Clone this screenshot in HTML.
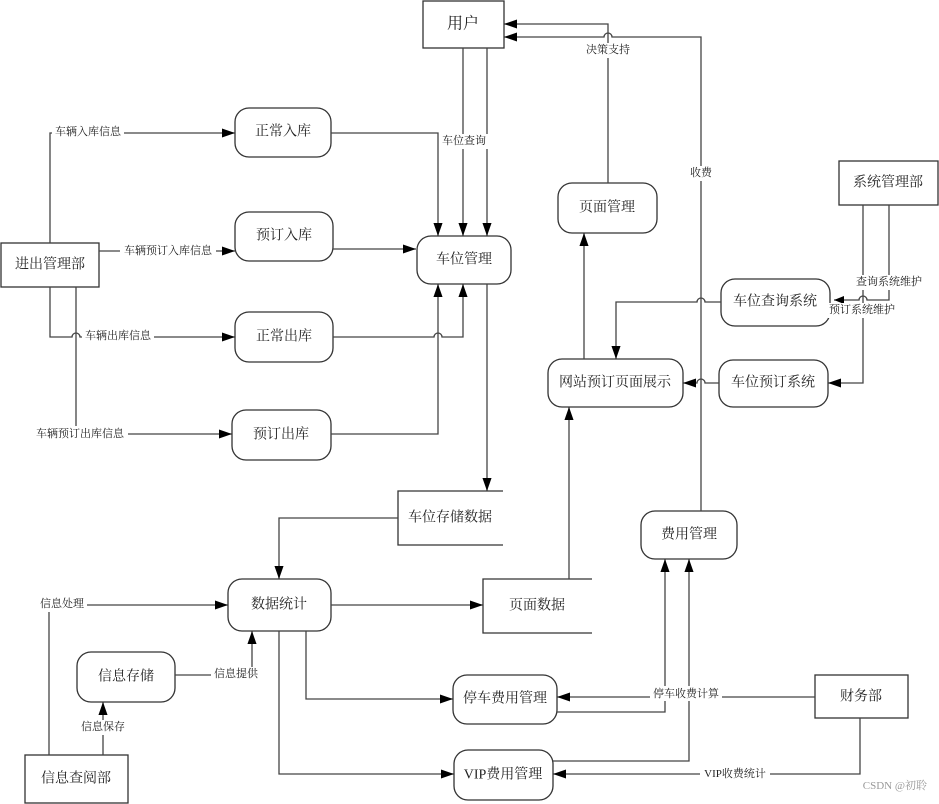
<!DOCTYPE html>
<html><head><meta charset="utf-8"><style>
html,body{margin:0;padding:0;background:#fff;}
svg{display:block;}
text{font-family:"Liberation Serif","Noto Serif CJK SC","Noto Sans CJK SC",serif;fill:#222;}
.n{font-size:14px;text-anchor:middle;dominant-baseline:central;}
.l{font-size:11px;text-anchor:middle;dominant-baseline:central;}
</style></head><body>
<svg width="939" height="804" viewBox="0 0 939 804" xmlns="http://www.w3.org/2000/svg">
<defs>
<marker id="a" viewBox="0 0 10 10" refX="10" refY="5" markerWidth="10" markerHeight="10" markerUnits="userSpaceOnUse" orient="auto"><path d="M0,1 L10,5 L0,9 z" fill="#000"/></marker>
<marker id="b" viewBox="0 0 10 10" refX="10" refY="5" markerWidth="13" markerHeight="13" markerUnits="userSpaceOnUse" orient="auto"><path d="M0,1.5 L10,5 L0,8.5 z" fill="#000"/></marker>
</defs>
<g fill="#fff" stroke="#333" stroke-width="1.3">
<rect x="423" y="1" width="81" height="47"/>
<rect x="1" y="243" width="98" height="44"/>
<rect x="839" y="161" width="99" height="44"/>
<rect x="815" y="675" width="93" height="43"/>
<rect x="25" y="755" width="103" height="48"/>
<rect x="235" y="108" width="96" height="49" rx="14"/>
<rect x="235" y="212" width="98" height="49" rx="14"/>
<rect x="235" y="312" width="98" height="50" rx="14"/>
<rect x="232" y="410" width="99" height="50" rx="14"/>
<rect x="417" y="236" width="94" height="48" rx="14"/>
<rect x="558" y="183" width="99" height="50" rx="14"/>
<rect x="721" y="279" width="109" height="47" rx="14"/>
<rect x="548" y="359" width="135" height="48" rx="14"/>
<rect x="719" y="360" width="109" height="47" rx="14"/>
<rect x="641" y="511" width="96" height="48" rx="14"/>
<rect x="228" y="579" width="103" height="52" rx="14"/>
<rect x="77" y="652" width="98" height="50" rx="14"/>
<rect x="453" y="675" width="104" height="49" rx="14"/>
<rect x="454" y="750" width="99" height="50" rx="14"/>
</g>
<g fill="none" stroke="#333" stroke-width="1.3">
<path d="M503,491 H398 V545 H503"/>
<path d="M592,579 H483 V633 H592"/>
</g>
<g fill="none" stroke="#444" stroke-width="1.3">
<path d="M50,243 V133 H235" marker-end="url(#b)"/>
<path d="M99,251 H235" marker-end="url(#b)"/>
<path d="M50,287 V337 H72 a4,4 0 0 1 8,0 H235" marker-end="url(#b)"/>
<path d="M76,287 V434 H232" marker-end="url(#b)"/>
<path d="M331,133 H438 V236" marker-end="url(#b)"/>
<path d="M333,249 H416" marker-end="url(#b)"/>
<path d="M463,48 V236" marker-end="url(#b)"/>
<path d="M487,48 V236" marker-end="url(#b)"/>
<path d="M333,337 H434 a4,4 0 0 1 8,0 H463 V284" marker-end="url(#b)"/>
<path d="M331,434 H438 V284" marker-end="url(#b)"/>
<path d="M487,284 V491" marker-end="url(#b)"/>
<path d="M398,518 H279 V579" marker-end="url(#b)"/>
<path d="M608,183 V24 H504" marker-end="url(#b)"/>
<path d="M701,511 V37 H612 a4,4 0 0 0 -8,0 H504" marker-end="url(#b)"/>
<path d="M584,359 V233" marker-end="url(#b)"/>
<path d="M721,302 H705 a4,4 0 0 0 -8,0 H616 V359" marker-end="url(#b)"/>
<path d="M719,383 H705 a4,4 0 0 0 -8,0 H683" marker-end="url(#b)"/>
<path d="M863,205 V383 H828" marker-end="url(#b)"/>
<path d="M889,205 V300 H867 a4,4 0 0 0 -8,0 H834" marker-end="url(#a)"/>
<path d="M569,579 V407" marker-end="url(#b)"/>
<path d="M331,605 H483" marker-end="url(#b)"/>
<path d="M49,755 V605 H228" marker-end="url(#b)"/>
<path d="M103,755 V702" marker-end="url(#b)"/>
<path d="M175,675 H252 V631" marker-end="url(#b)"/>
<path d="M306,631 V699 H453" marker-end="url(#b)"/>
<path d="M279,631 V774 H454" marker-end="url(#b)"/>
<path d="M815,697 H557" marker-end="url(#b)"/>
<path d="M557,712 H665 V559" marker-end="url(#b)"/>
<path d="M553,761 H689 V559" marker-end="url(#b)"/>
<path d="M860,718 V774 H553" marker-end="url(#b)"/>
</g>
<g>
<text class="n" x="463" y="24" style="font-size:16px">用户</text>
<text class="n" x="50" y="265">进出管理部</text>
<text class="n" x="888" y="183">系统管理部</text>
<text class="n" x="861" y="697">财务部</text>
<text class="n" x="76" y="779">信息查阅部</text>
<text class="n" x="283" y="132">正常入库</text>
<text class="n" x="284" y="236">预订入库</text>
<text class="n" x="284" y="337">正常出库</text>
<text class="n" x="281" y="435">预订出库</text>
<text class="n" x="464" y="260">车位管理</text>
<text class="n" x="607" y="208">页面管理</text>
<text class="n" x="775" y="302">车位查询系统</text>
<text class="n" x="615" y="383">网站预订页面展示</text>
<text class="n" x="773" y="383">车位预订系统</text>
<text class="n" x="689" y="535">费用管理</text>
<text class="n" x="279" y="605">数据统计</text>
<text class="n" x="126" y="677">信息存储</text>
<text class="n" x="505" y="699">停车费用管理</text>
<text class="n" x="503" y="775">VIP费用管理</text>
<text class="n" x="450" y="518">车位存储数据</text>
<text class="n" x="537" y="606">页面数据</text>
</g>
<g>
<rect x="52" y="125" width="72" height="15" fill="#fff"/><text class="l" x="88" y="132">车辆入库信息</text>
<rect x="120" y="243" width="96" height="15" fill="#fff"/><text class="l" x="168" y="251">车辆预订入库信息</text>
<rect x="82" y="329" width="72" height="15" fill="#fff"/><text class="l" x="118" y="336">车辆出库信息</text>
<rect x="32" y="426" width="96" height="15" fill="#fff"/><text class="l" x="80" y="434">车辆预订出库信息</text>
<rect x="440" y="134" width="48" height="15" fill="#fff"/><text class="l" x="464" y="141">车位查询</text>
<rect x="584" y="43" width="48" height="15" fill="#fff"/><text class="l" x="608" y="50">决策支持</text>
<rect x="688" y="166" width="26" height="15" fill="#fff"/><text class="l" x="701" y="173">收费</text>
<rect x="854" y="275" width="72" height="15" fill="#fff"/><text class="l" x="889" y="282">查询系统维护</text>
<rect x="828" y="303" width="70" height="15" fill="#fff"/><text class="l" x="862" y="310">预订系统维护</text>
<rect x="37" y="597" width="50" height="15" fill="#fff"/><text class="l" x="62" y="604">信息处理</text>
<rect x="78" y="720" width="50" height="15" fill="#fff"/><text class="l" x="103" y="727">信息保存</text>
<rect x="211" y="667" width="50" height="15" fill="#fff"/><text class="l" x="236" y="674">信息提供</text>
<rect x="650" y="686" width="72" height="15" fill="#fff"/><text class="l" x="686" y="694">停车收费计算</text>
<rect x="700" y="766" width="70" height="15" fill="#fff"/><text class="l" x="735" y="774">VIP收费统计</text>
<text x="927" y="789" style="font-size:11px;fill:#999;text-anchor:end">CSDN @初聆</text>
</g>
</svg>
</body></html>
